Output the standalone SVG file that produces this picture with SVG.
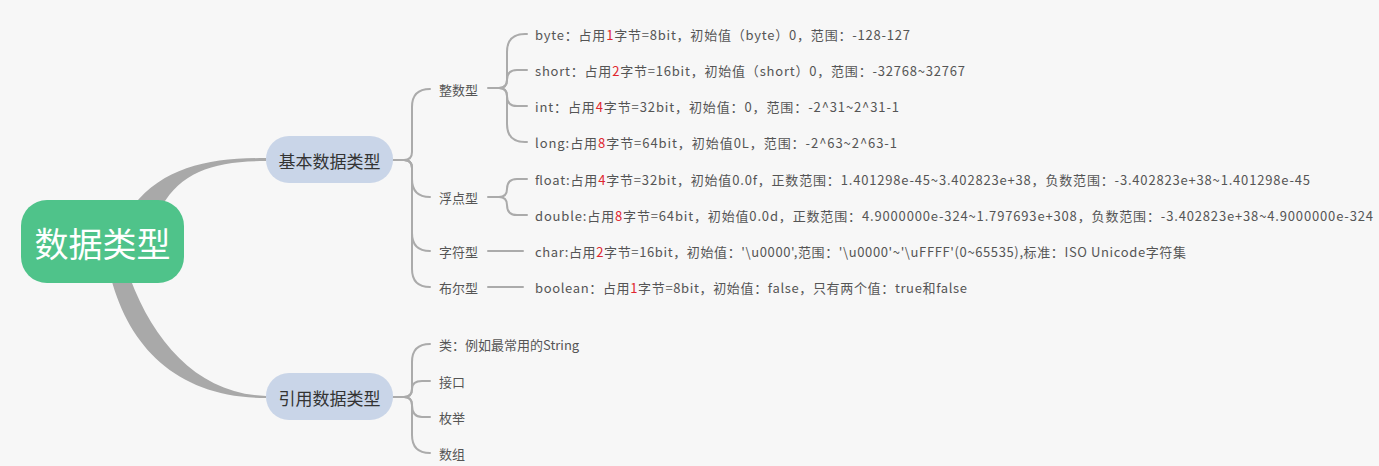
<svg xmlns="http://www.w3.org/2000/svg" width="1379" height="466" viewBox="0 0 1379 466">
<style>
text{font-family:"Noto Sans CJK SC","Noto Sans",sans-serif;}
.root{font-size:34px;fill:#ffffff;}
.l1{font-size:17px;fill:#333333;}
.l2{font-size:13px;fill:#555555;}
.l3{font-size:13px;fill:#555555;}
.red{fill:#e0262e;}
.ln{fill:none;stroke:#ababab;stroke-width:2;stroke-linecap:round;}
.thick{fill:#a9a9a9;stroke:none;}
</style>
<rect x="0" y="0" width="1379" height="466" fill="#f7f7f7"/>
<g id="connectors">
  <path class="thick" d="M133 206 C165 166 210 158 266 158 L266 161 C215 161 182 171 162 206 Z"/>
  <path class="thick" d="M111 278 C130 350 180 398 266 398 L266 396 C200 394 155 345 130 278 Z"/>
  <!-- 基本数据类型 branches -->
  <path class="ln" d="M393 160 L404 160 Q412 160 412 152 L412 107 Q412 89 430 89"/>
  <path class="ln" d="M404 160 Q412 160 412 168 L412 179 Q412 197 430 197"/>
  <path class="ln" d="M404 160 Q412 160 412 168 L412 233 Q412 251 430 251"/>
  <path class="ln" d="M404 160 Q412 160 412 168 L412 269 Q412 287 430 287"/>
  <!-- 整数型 branches -->
  <path class="ln" d="M488 88 L499 88 Q507 88 507 80 L507 52 Q507 34 525 34 L527 34"/>
  <path class="ln" d="M499 88 Q507 88 507 80 Q507 70 517 70 L527 70"/>
  <path class="ln" d="M499 88 Q507 88 507 96 Q507 106 517 106 L527 106"/>
  <path class="ln" d="M499 88 Q507 88 507 96 L507 124 Q507 142 525 142 L527 142"/>
  <!-- 浮点型 branches -->
  <path class="ln" d="M488 197 L499 197 Q507 197 507 189 Q507 179 517 179 L527 179"/>
  <path class="ln" d="M499 197 Q507 197 507 205 Q507 215 517 215 L527 215"/>
  <!-- 字符型 / 布尔型 -->
  <path class="ln" d="M488 251 L523 251"/>
  <path class="ln" d="M488 287 L523 287"/>
  <!-- 引用数据类型 branches -->
  <path class="ln" d="M393 397 L404 397 Q412 397 412 389 L412 362 Q412 344 430 344"/>
  <path class="ln" d="M404 397 Q412 397 412 389 Q412 381 422 381 L430 381"/>
  <path class="ln" d="M404 397 Q412 397 412 405 Q412 417 422 417 L430 417"/>
  <path class="ln" d="M404 397 Q412 397 412 405 L412 435 Q412 453 430 453"/>
</g>
<g id="root">
  <rect x="21" y="200" width="163" height="83" rx="26" fill="#4fc38a"/>
  <text class="root" x="102.5" y="242" text-anchor="middle" dominant-baseline="central">数据类型</text>
</g>
<g id="basic">
  <rect x="266" y="136" width="127" height="47" rx="23" fill="#c9d5e8"/>
  <text class="l1" x="329.5" y="160" text-anchor="middle" dominant-baseline="central">基本数据类型</text>
</g>
<g id="ref">
  <rect x="266" y="373" width="127" height="47" rx="23" fill="#c9d5e8"/>
  <text class="l1" x="329.5" y="397" text-anchor="middle" dominant-baseline="central">引用数据类型</text>
</g>
<g id="int-type"><text class="l2" x="439" y="89" dominant-baseline="central">整数型</text></g>
<g id="float-type"><text class="l2" x="439" y="197" dominant-baseline="central">浮点型</text></g>
<g id="char-type"><text class="l2" x="439" y="251" dominant-baseline="central">字符型</text></g>
<g id="bool-type"><text class="l2" x="439" y="287" dominant-baseline="central">布尔型</text></g>
<g id="byte"><text class="l3" x="535" y="34" dominant-baseline="central" textLength="375" lengthAdjust="spacing">byte：占用<tspan class="red">1</tspan>字节=8bit，初始值（byte）0，范围：-128-127</text></g>
<g id="short"><text class="l3" x="535" y="70" dominant-baseline="central" textLength="430" lengthAdjust="spacing">short：占用<tspan class="red">2</tspan>字节=16bit，初始值（short）0，范围：-32768~32767</text></g>
<g id="int"><text class="l3" x="535" y="106" dominant-baseline="central" textLength="364" lengthAdjust="spacing">int：占用<tspan class="red">4</tspan>字节=32bit，初始值：0，范围：-2^31~2^31-1</text></g>
<g id="long"><text class="l3" x="535" y="142" dominant-baseline="central" textLength="362" lengthAdjust="spacing">long:占用<tspan class="red">8</tspan>字节=64bit，初始值0L，范围：-2^63~2^63-1</text></g>
<g id="float"><text class="l3" x="535" y="179" dominant-baseline="central" textLength="775" lengthAdjust="spacing">float:占用<tspan class="red">4</tspan>字节=32bit，初始值0.0f，正数范围：1.401298e-45~3.402823e+38，负数范围：-3.402823e+38~1.401298e-45</text></g>
<g id="double"><text class="l3" x="535" y="215" dominant-baseline="central" textLength="838" lengthAdjust="spacing">double:占用<tspan class="red">8</tspan>字节=64bit，初始值0.0d，正数范围：4.9000000e-324~1.797693e+308，负数范围：-3.402823e+38~4.9000000e-324</text></g>
<g id="char"><text class="l3" x="535" y="251" dominant-baseline="central" textLength="651" lengthAdjust="spacing">char:占用<tspan class="red">2</tspan>字节=16bit，初始值：'\u0000',范围：'\u0000'~'\uFFFF'(0~65535),标准：ISO Unicode字符集</text></g>
<g id="boolean"><text class="l3" x="535" y="287" dominant-baseline="central" textLength="432" lengthAdjust="spacing">boolean：占用<tspan class="red">1</tspan>字节=8bit，初始值：false，只有两个值：true和false</text></g>
<g id="class"><text class="l2" x="439" y="344" dominant-baseline="central">类：例如最常用的String</text></g>
<g id="interface"><text class="l2" x="439" y="381" dominant-baseline="central">接口</text></g>
<g id="enum"><text class="l2" x="439" y="417" dominant-baseline="central">枚举</text></g>
<g id="array"><text class="l2" x="439" y="453" dominant-baseline="central">数组</text></g>
</svg>
